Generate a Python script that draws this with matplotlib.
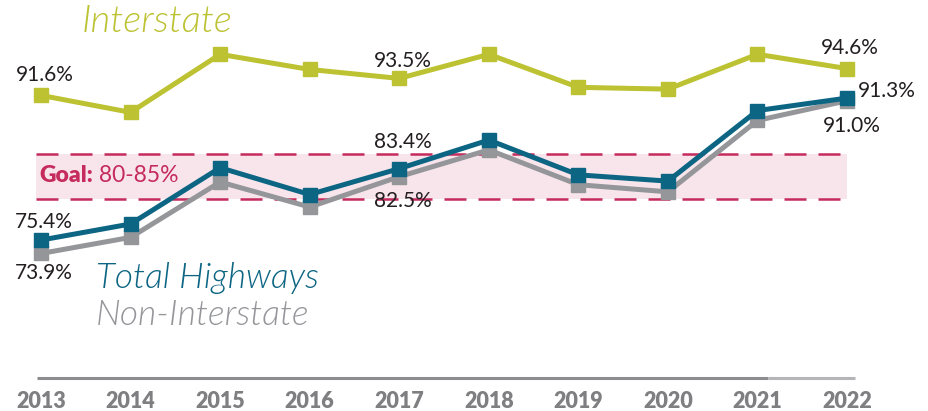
import matplotlib
matplotlib.use("Agg")
import matplotlib.pyplot as plt

years = [2013, 2014, 2015, 2016, 2017, 2018, 2019, 2020, 2021, 2022]
interstate = [91.6, 89.7, 96.2, 94.5, 93.5, 96.2, 92.5, 92.3, 96.2, 94.6]
total_highways = [75.4, 77.2, 83.5, 80.5, 83.4, 86.6, 82.7, 82.0, 89.9, 91.3]
non_interstate = [73.9, 75.7, 81.9, 79.1, 82.5, 85.5, 81.6, 80.8, 88.8, 91.0]
goal_low, goal_high = 80, 85
tick_labels = [str(y) for y in years]

C_INT = "#BCC231"
C_TOT = "#0C6583"
C_NON = "#95969A"
C_GOAL = "#C52B5D"
C_BAND = "#F8E5EC"
C_TICK = "#7F7F82"
C_TXT = "#231F20"

plt.rcParams['font.family'] = ['Lato', 'DejaVu Sans']

fig = plt.figure(figsize=(9.29, 4.11), dpi=100)
ax = fig.add_axes([0, 0, 1, 1])
ax.set_axis_off()
ax.set_xlim(2012.542, 2022.915)
ax.set_ylim(56.26, 102.28)

# goal band
gx0, gx1 = 2012.944, 2022.0
ax.fill_between([gx0, gx1], goal_low, goal_high, color=C_BAND, lw=0, zorder=1)
for g in (goal_low, goal_high):
    ax.plot([gx0, gx1], [g, g], color=C_GOAL, lw=1.8, dashes=(8.8, 4.8), zorder=2)

# baseline
ax.plot([2012.955, 2021.117], [60, 60], color="#8C8C8F", lw=2.2, solid_capstyle='butt', zorder=2)
ax.plot([2021.117, 2022.089], [60, 60], color="#B5B5B8", lw=2.2, solid_capstyle='butt', zorder=2)

for y, lab in zip(years, tick_labels):
    ax.text(y, 57.3, lab, ha='center', va='center', fontsize=15.5, fontweight='heavy', color=C_TICK)

kw = dict(lw=3.6, marker='s', markersize=9.5, solid_joinstyle='miter')
ax.plot(years, interstate, color=C_INT, zorder=3, **kw)
ax.plot(years, non_interstate, color=C_NON, zorder=4, **kw)
ax.plot(years, total_highways, color=C_TOT, zorder=5, **kw)

def lab(series, i, dx, dy, ha='center'):
    ax.annotate(f"{series[i]:.1f}%", (years[i], series[i]), xytext=(dx, dy),
                textcoords='offset pixels', ha=ha, va='center', fontsize=15, color=C_TXT)

lab(interstate, 0, 4, 20)
lab(interstate, 4, 4, 17)
lab(interstate, 9, 3, 21)
lab(total_highways, 9, 40, 7)
lab(non_interstate, 9, 5, -25)
lab(total_highways, 4, 4, 27)
lab(non_interstate, 4, 4, -24)
lab(total_highways, 0, 3, 18)
lab(non_interstate, 0, 3, -20)

ax.text(2013.458, 99.82, "Interstate", ha='left', va='center', fontsize=27.5,
        style='italic', fontweight=300, color=C_INT)
ax.text(2013.614, 71.15, "Total Highways", ha='left', va='center', fontsize=25.5,
        style='italic', fontweight=300, color=C_TOT)
ax.text(2013.614, 67.0, "Non-Interstate", ha='left', va='center', fontsize=25.5,
        style='italic', fontweight=300, color=C_NON)

t1 = ax.text(2012.98, 82.58, "Goal:", ha='left', va='center', fontsize=16.5,
             fontweight='heavy', color=C_GOAL, zorder=6)
ax.annotate(" 80-85%", xy=(1, 0.5), xycoords=t1, ha='left', va='center',
            fontsize=16.5, color=C_GOAL, zorder=6)

fig.savefig("out.png", dpi=100)
